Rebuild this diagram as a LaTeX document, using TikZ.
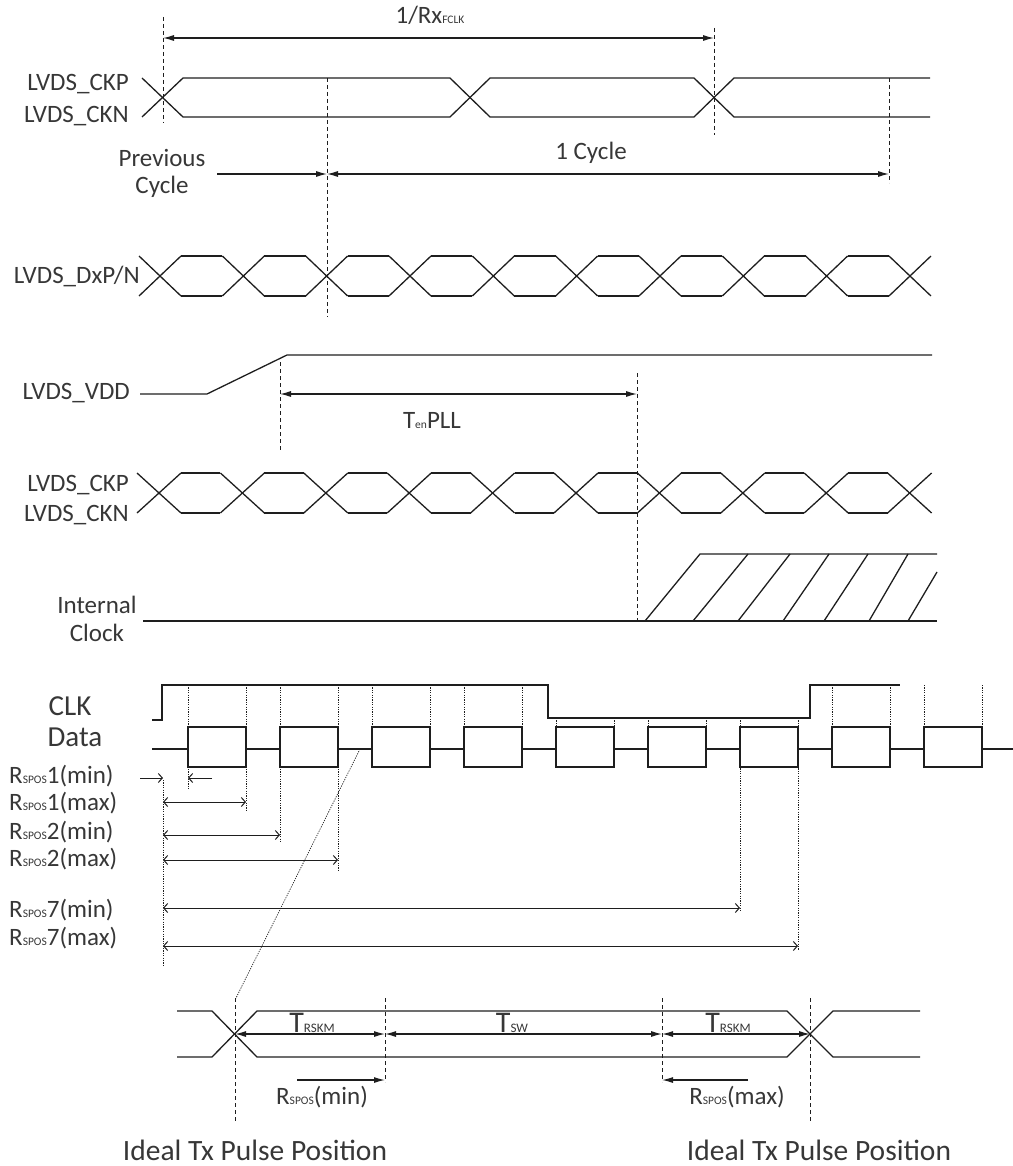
\documentclass[tikz,border=0pt]{standalone}
\usepackage{fontspec}
\setmainfont{Carlito}
\usetikzlibrary{arrows.meta}

\definecolor{ink}{RGB}{30,30,30}
\definecolor{txt}{RGB}{55,55,55}

\newcommand\sigfont{\fontsize{25}{29}\selectfont}
\newcommand\bigfont{\fontsize{29}{33}\selectfont}
\newcommand\subs[1]{{\fontsize{11.5}{12}\selectfont #1}}
\newcommand\tsubs[1]{{\fontsize{13}{14}\selectfont #1}}

\tikzset{
  wave/.style={draw=ink,line width=1.3pt},
  guide/.style={draw=ink,line width=0.8pt,dash pattern=on 4pt off 3pt},
  fine/.style={draw=ink,line width=0.7pt,dash pattern=on 1.2pt off 1.2pt},
  dim/.style={draw=ink,line width=1.2pt,{Latex[length=11pt,width=6pt]}-{Latex[length=11pt,width=6pt]}},
  dimr/.style={draw=ink,line width=1.2pt,-{Latex[length=11pt,width=6pt]}},
  odim/.style={draw=ink,line width=1pt,{Straight Barb[length=4pt,width=9pt]}-{Straight Barb[length=4pt,width=9pt]}},
  odimr/.style={draw=ink,line width=1pt,-{Straight Barb[length=4pt,width=9pt]}},
  lbl/.style={text=txt,inner sep=0pt,font=\sigfont},
}

\begin{document}
\begin{tikzpicture}[x=1pt,y=-1pt]
  \useasboundingbox (0,0) rectangle (1012,1166);

  % first clock pair
  \node[lbl] (rxlbl) at (430,15) {1/Rx\subs{FCLK}};
  \coordinate (rxa) at (163,38);
  \coordinate (rxb) at (714,38);
  \draw[dim] (rxa) -- (rxb);
  \draw[guide] (163,17) -- (163,123);
  \draw[guide] (714,28) -- (714,135);
  \node[lbl,anchor=east] (ckp1) at (129,84) {LVDS\_CKP};
  \node[lbl,anchor=east] (ckn1) at (129,116) {LVDS\_CKN};
  \draw[wave] (142,78) -- (183,117) -- (450,117) -- (490,78) -- (694,78) -- (734,117) -- (930,117);
  \draw[wave] (142,117) -- (183,78) -- (450,78) -- (490,117) -- (694,117) -- (734,78) -- (930,78);
  \draw[guide] (327,78) -- (327,317);
  \draw[guide] (889,78) -- (889,183);

  \node[lbl] (prev) at (162,158) {Previous};
  \node[lbl] (prevc) at (162,187) {Cycle};
  \node[lbl] (onecyc) at (591,153) {1 Cycle};
  \coordinate (pca) at (217,174);
  \coordinate (pcb) at (327,174);
  \coordinate (pcc) at (889,174);
  \draw[dimr] (pca) -- (pcb);
  \draw[dim] (pcb) -- (pcc);

  % data pair
  \node[lbl,anchor=east] (dxpn) at (140,276) {LVDS\_DxP/N};
  \foreach \k in {0,...,9} {
    \pgfmathsetmacro\c{160+83.33*\k}
    \draw[wave] (\c-21,256) -- (\c+21,296);
    \draw[wave] (\c-21,296) -- (\c+21,256);
    \ifnum\k<9
      \draw[wave] (\c+21,256) -- (\c+62.33,256);
      \draw[wave] (\c+21,296) -- (\c+62.33,296);
    \fi
  }

  % supply
  \node[lbl,anchor=east] (vdd) at (130,393) {LVDS\_VDD};
  \draw[wave] (140,394) -- (207,394) -- (287,355) -- (932,355);
  \draw[guide] (280,362) -- (280,452);
  \draw[guide] (637,373) -- (637,622);
  \coordinate (pla) at (280,394);
  \coordinate (plb) at (637,394);
  \draw[dim] (pla) -- (plb);
  \node[lbl] (tenpll) at (432,421) {T\subs{en}PLL};

  % second clock pair
  \node[lbl,anchor=east] (ckp2) at (129,485) {LVDS\_CKP};
  \node[lbl,anchor=east] (ckn2) at (129,515) {LVDS\_CKN};
  \foreach \k in {0,...,9} {
    \pgfmathsetmacro\c{159+83.4*\k}
    \draw[wave] (\c-22,473) -- (\c+22,513);
    \draw[wave] (\c-22,513) -- (\c+22,473);
    \ifnum\k<9
      \draw[wave] (\c+22,473) -- (\c+61.4,473);
      \draw[wave] (\c+22,513) -- (\c+61.4,513);
    \fi
  }

  % internal clock
  \node[lbl] (intl) at (97,605) {Internal};
  \node[lbl] (intc) at (97,633) {Clock};
  \draw[wave] (143,621) -- (937,621);
  \draw[wave] (645,621) -- (700,554) -- (937,554);
  \draw[wave] (693,621) -- (748,554);
  \draw[wave] (738,621) -- (790,554);
  \draw[wave] (783,621) -- (829,554);
  \draw[wave] (824,621) -- (868,554);
  \draw[wave] (869,621) -- (908,554);
  \draw[wave] (908,621) -- (937,572);

  % CLK and data
  \node[text=txt,inner sep=0pt,font=\bigfont] (clk) at (70,706) {CLK};
  \node[text=txt,inner sep=0pt,font=\bigfont] (dat) at (75,737) {Data};
  \foreach \k/\lo in {0/790,1/843,2/727,3/727,7/727,8/727} {
    \pgfmathsetmacro\l{188+92*\k}
    \draw[fine] (\l,685) -- (\l,\lo);
  }
  \foreach \k/\lo in {0/812,1/870,2/727,3/727,7/727,8/727} {
    \pgfmathsetmacro\r{246+92*\k}
    \draw[fine] (\r,685) -- (\r,\lo);
  }
  \foreach \k/\lo in {4/727,5/727,6/912} {
    \pgfmathsetmacro\l{188+92*\k}
    \draw[fine] (\l,718) -- (\l,\lo);
  }
  \foreach \k/\lo in {4/727,5/727,6/950} {
    \pgfmathsetmacro\r{246+92*\k}
    \draw[fine] (\r,718) -- (\r,\lo);
  }
  \draw[fine] (163,780) -- (163,967);
  \draw[wave] (152,720) -- (162,720) -- (162,685) -- (548,685) -- (548,718) -- (810,718) -- (810,685) -- (900,685);
  \draw[wave] (152,749) -- (188,749);
  \foreach \k in {0,...,8} {
    \pgfmathsetmacro\l{188+92*\k}
    \draw[wave] (\l,727) rectangle (\l+58,767);
    \draw[wave] (\l+58,749) -- (\l+92,749);
  }
  \draw[fine] (360,749) -- (235,1000);

  \node[lbl,anchor=west] (r1min) at (9,776) {R\subs{SPOS}1(min)};
  \node[lbl,anchor=west] (r1max) at (9,803) {R\subs{SPOS}1(max)};
  \node[lbl,anchor=west] (r2min) at (9,832) {R\subs{SPOS}2(min)};
  \node[lbl,anchor=west] (r2max) at (9,859) {R\subs{SPOS}2(max)};
  \node[lbl,anchor=west] (r7min) at (9,910) {R\subs{SPOS}7(min)};
  \node[lbl,anchor=west] (r7max) at (9,938) {R\subs{SPOS}7(max)};
  \coordinate (s1a) at (140,778);
  \coordinate (s1b) at (163,778);
  \coordinate (s1c) at (212,778);
  \coordinate (s1d) at (188,778);
  \draw[odimr] (s1a) -- (s1b);
  \draw[odimr] (s1c) -- (s1d);
  \draw[odim] (163,802) -- (246,802);
  \draw[odim] (163,835) -- (280,835);
  \draw[odim] (163,860) -- (338,860);
  \draw[odim] (163,908) -- (740,908);
  \draw[odim] (163,946) -- (798,946);

  % eye at the receiver
  \draw[wave] (177,1011) -- (212,1011) -- (257,1057) -- (787,1057) -- (833,1011) -- (920,1011);
  \draw[wave] (177,1057) -- (212,1057) -- (257,1011) -- (787,1011) -- (833,1057) -- (920,1057);
  \draw[guide] (235,998) -- (235,1123);
  \draw[guide] (385,998) -- (385,1082);
  \draw[guide] (662,998) -- (662,1082);
  \draw[guide] (810,998) -- (810,1123);
  \coordinate (e0) at (235,1034);
  \coordinate (e1) at (385,1034);
  \coordinate (e2) at (662,1034);
  \coordinate (e3) at (810,1034);
  \draw[dim] (e0) -- (e1);
  \draw[dim] (e1) -- (e2);
  \draw[dim] (e2) -- (e3);
  \node[text=txt,inner sep=0pt,anchor=base,font=\fontsize{30}{32}\selectfont] (tsk1) at (312,1032) {T\tsubs{RSKM}};
  \node[text=txt,inner sep=0pt,anchor=base,font=\fontsize{30}{32}\selectfont] (tsw) at (512,1032) {T\tsubs{SW}};
  \node[text=txt,inner sep=0pt,anchor=base,font=\fontsize{30}{32}\selectfont] (tsk2) at (728,1032) {T\tsubs{RSKM}};
  \coordinate (mna) at (297,1080);
  \coordinate (mnb) at (385,1080);
  \coordinate (mxa) at (748,1080);
  \coordinate (mxb) at (662,1080);
  \draw[dimr] (mna) -- (mnb);
  \draw[dimr] (mxa) -- (mxb);
  \node[lbl] (rmin) at (322,1097) {R\subs{SPOS}(min)};
  \node[lbl] (rmax) at (737,1097) {R\subs{SPOS}(max)};
  \node[text=txt,inner sep=0pt,font=\fontsize{29.5}{33}\selectfont] (ideal1) at (255,1150) {Ideal Tx Pulse Position};
  \node[text=txt,inner sep=0pt,font=\fontsize{29.5}{33}\selectfont] (ideal2) at (819,1150) {Ideal Tx Pulse Position};
\end{tikzpicture}
\end{document}
